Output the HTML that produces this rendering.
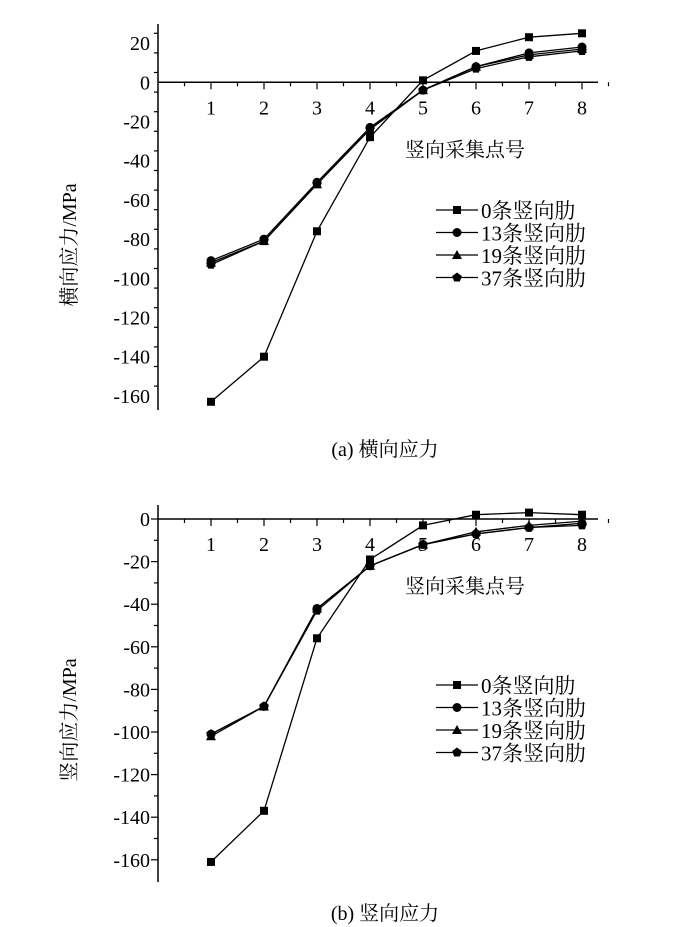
<!DOCTYPE html>
<html><head><meta charset="utf-8"><style>
html,body{margin:0;padding:0;background:#fff;}
svg{display:block;}
text{font-family:"Liberation Serif","Noto Serif CJK SC","Noto Sans CJK SC",serif;fill:#000;}
</style></head><body>
<svg id="svg" width="700" height="927" viewBox="0 0 700 927" xmlns="http://www.w3.org/2000/svg"></svg>
<script>
const categories = [1,2,3,4,5,6,7,8];
const seriesNames = ["0条竖向肋","13条竖向肋","19条竖向肋","37条竖向肋"];
const yTicks = [20,0,-20,-40,-60,-80,-100,-120,-140,-160];
const yTicksB = [0,-20,-40,-60,-80,-100,-120,-140,-160];
const aS0 = [-163,-140,-76,-28,1,16,23,25];
const aS13 = [-91,-80,-51,-23,-4,8,15,18];
const aS19 = [-92,-81,-52,-24,-4,8,14,17];
const aS37 = [-93,-81,-52,-24,-4,7,13,16];
const bS0 = [-161,-137,-56,-19,-3,2,3,2];
const bS13 = [-101,-88,-42,-22,-12,-7,-4,-2];
const bS19 = [-102,-88,-42,-22,-12,-6,-3,-1];
const bS37 = [-101,-88,-43,-22,-12,-7,-4,-3];

const NS="http://www.w3.org/2000/svg";
const svg=document.getElementById('svg');
function mk(tag,attrs,parent){const e=document.createElementNS(NS,tag);for(const k in attrs)e.setAttribute(k,attrs[k]);(parent||svg).appendChild(e);return e;}

function marker(g,type,x,y){
  let e;
  if(type===0){e=mk('rect',{x:x-4,y:y-4,width:8,height:8,fill:'#000'},g);}
  else if(type===1){e=mk('circle',{cx:x,cy:y,r:4.5,fill:'#000'},g);}
  else if(type===2){e=mk('polygon',{points:`${x},${y-5} ${x+5},${y+4} ${x-5},${y+4}`,fill:'#000'},g);}
  else{let p=[];for(let i=0;i<5;i++){const a=-Math.PI/2+i*2*Math.PI/5;p.push((x+5*Math.cos(a)).toFixed(1)+','+(y+5*Math.sin(a)).toFixed(1));}e=mk('polygon',{points:p.join(' '),fill:'#000'},g);}
  return e;
}

function chart(cfg){
  const g=mk('g',{});
  
  
  const ax=158, x0=211, dx=53;
  const X=c=>x0+(c-1)*dx;
  const Y=v=>cfg.y0-v*cfg.py;
  const ya=mk('line',{x1:ax,y1:cfg.top,x2:ax,y2:cfg.bot,stroke:'#000','stroke-width':1.5},g);
  
  
  for(let v=cfg.maxTick;v>=-160;v-=10){
    const major=v%20===0;
    mk('line',{x1:ax,y1:Y(v),x2:ax-(major?7:4),y2:Y(v),stroke:'#000','stroke-width':1.2},g);
  }
  cfg.ticks.forEach(v=>{
    const t=mk('text',{x:150,y:Y(v)+7,'text-anchor':'end','font-size':20},g);
    t.textContent=v;
    
    
  });
  const xa=mk('line',{x1:ax,y1:Y(0),x2:598,y2:Y(0),stroke:'#000','stroke-width':1.5},g);
  
  
  for(let c=0.5;c<=8.5;c+=0.5){
    const major=Number.isInteger(c);
    mk('line',{x1:X(c),y1:Y(0),x2:X(c),y2:Y(0)+(major?7:4),stroke:'#000','stroke-width':1.2},g);
  }
  categories.forEach(c=>{
    const t=mk('text',{x:X(c),y:Y(0)+32,'text-anchor':'middle','font-size':20},g);
    t.textContent=c;
    
    
  });
  const xt=mk('text',{x:465,y:Y(0)+74,'text-anchor':'middle','font-size':20},g);
  xt.textContent='竖向采集点号';
  
  
  const yt=mk('text',{x:0,y:0,'text-anchor':'middle','font-size':20,transform:`translate(76,${cfg.ytY}) rotate(-90)`},g);
  yt.textContent=cfg.ytitle;
  
  
  cfg.series.forEach((arr,si)=>{
    const sg=mk('g',{},g);
    
    
    const pts=arr.map((v,i)=>X(categories[i]).toFixed(1)+','+Y(v).toFixed(1)).join(' ');
    mk('polyline',{points:pts,fill:'none',stroke:'#000','stroke-width':1.3},sg);
    arr.forEach((v,i)=>{
      const m=marker(sg,si,X(categories[i]),Y(v));
      
      
    });
  });
  const lg=mk('g',{},g);
  
  
  seriesNames.forEach((n,i)=>{
    const y=cfg.legY+i*22.5;
    const eg=mk('g',{},lg);
    
    
    mk('line',{x1:436,y1:y,x2:478,y2:y,stroke:'#000','stroke-width':1.3},eg);
    marker(eg,i,457,y);
    const t=mk('text',{x:481,y:y+8,'font-size':21},eg);
    t.textContent=n;
  });
  const cap=mk('text',{x:385,y:cfg.capY,'text-anchor':'middle','font-size':20},g);
  cap.textContent=cfg.caption;
  
  
}

chart({name:'chart-horizontal-stress',y0:82.3,py:39.2/20,top:24,bot:410,maxTick:25,ticks:yTicks,
  series:[aS0,aS13,aS19,aS37],ytitle:'横向应力/MPa',ytY:245,legY:210,capY:456,caption:'(a) 横向应力'});
chart({name:'chart-vertical-stress',y0:519,py:42.6/20,top:505,bot:882,maxTick:0,ticks:yTicksB,
  series:[bS0,bS13,bS19,bS37],ytitle:'竖向应力/MPa',ytY:720,legY:685,capY:920,caption:'(b) 竖向应力'});
</script>
</body></html>
